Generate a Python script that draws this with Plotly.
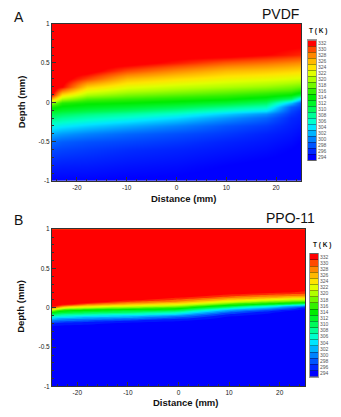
import plotly.graph_objects as go

# ---------------- data ----------------
distance_cols = [-25, -23, -18, -10, 0, 10, 18, 23, 25]

depth_rows_a = [-1.0, -0.8, -0.6, -0.5, -0.4, -0.3, -0.2, -0.15, -0.1, -0.05, 0.0,
                0.05, 0.1, 0.15, 0.2, 0.3, 0.4, 0.5, 0.6, 0.8, 1.0]

# PVDF temperature (K) profiles, one list per distance column (bottom -> top)
pvdf_m25 = [294, 295.6, 297.5, 299, 301.7, 305.1, 308.8, 310.6, 312.5, 314.9, 319, 326, 332, 333, 333, 333, 333, 333, 333, 333, 333]
pvdf_m23 = [294, 295.4, 297.2, 298.4, 301, 304.4, 308, 309.9, 311.8, 313.6, 315.5, 320, 324.3, 328.4, 332, 333, 333, 333, 333, 333, 333]
pvdf_m18 = [294, 295.3, 296.8, 297.8, 300, 303.3, 306.9, 308.8, 310.8, 312.8, 314.5, 317, 320, 322.5, 325, 330.2, 333, 333, 333, 333, 333]
pvdf_m10 = [293.8, 294.9, 296.2, 297.3, 298.8, 301.8, 305.6, 307.6, 309.7, 311.9, 314, 316.1, 318.3, 320.4, 322.3, 326, 330, 333, 333, 333, 333]
pvdf_0 = [293.7, 294.6, 295.7, 296.6, 297.7, 300, 303.6, 305.8, 308, 310.5, 313, 315.2, 317.2, 319.2, 321, 324.3, 327.8, 331.3, 333, 333, 333]
pvdf_p10 = [293.4, 294, 295.1, 295.7, 296.7, 298, 300.9, 303.1, 305.7, 308.6, 311.6, 314.4, 316.3, 318.1, 320, 323, 326, 329.5, 333, 333, 333]
pvdf_p18 = [293.2, 293.6, 294.6, 295.1, 295.7, 296.8, 298.7, 300.7, 304, 306.9, 309.8, 312.8, 315.2, 317.2, 319.2, 322.4, 325.4, 328.7, 332, 333, 333]
pvdf_p23 = [293, 293.5, 294, 294.5, 295, 295.5, 296, 296.7, 297.4, 298.5, 302.7, 309.7, 314, 316.6, 318.3, 321.8, 324.8, 328, 331.3, 333, 333]
pvdf_p25 = [293, 293.3, 293.7, 294, 294.5, 295, 295.5, 295.7, 296, 297, 298, 304, 311.6, 315.4, 317.7, 321.5, 324.5, 327.7, 331, 333, 333]

depth_rows_b = [-1.0, -0.5, -0.3, -0.25, -0.2, -0.175, -0.15, -0.125, -0.1, -0.075, -0.05, -0.025, 0.0,
                0.025, 0.05, 0.075, 0.1, 0.125, 0.15, 0.175, 0.2, 0.25, 0.3, 0.5, 1.0]

# PPO-11 temperature (K) profiles
ppo_m25 = [293.5, 293.5, 293.7, 294, 297, 299.5, 302, 304.7, 308, 311.75, 316, 321.5, 329, 333, 333, 333, 333, 333, 333, 333, 333, 333, 333, 333, 333]
ppo_m23 = [293.5, 293.5, 293.7, 293.9, 296, 298.5, 301, 303.5, 306.7, 309.8, 312.8, 317, 323, 329, 333, 333, 333, 333, 333, 333, 333, 333, 333, 333, 333]
ppo_m18 = [293.5, 293.5, 293.7, 293.8, 295.5, 297.5, 300, 302.5, 305.3, 308.6, 311.6, 315, 320, 325, 329, 333, 333, 333, 333, 333, 333, 333, 333, 333, 333]
ppo_m10 = [293.5, 293.5, 293.7, 293.8, 294.5, 295.8, 298.7, 301.5, 304, 307.3, 310.4, 313.4, 318, 322.1, 326, 329, 332, 333, 333, 333, 333, 333, 333, 333, 333]
ppo_0 = [293.5, 293.5, 293.6, 293.7, 293.9, 294.8, 296, 298.5, 301.3, 304.7, 308, 311.8, 315.5, 319.3, 323, 326.4, 328.6, 330.7, 333, 333, 333, 333, 333, 333, 333]
ppo_p10 = [293.5, 293.5, 293.6, 293.7, 293.8, 293.9, 293.95, 294.3, 295.5, 297.5, 300, 303.3, 308, 313, 317, 321.2, 324.5, 327.2, 329.4, 331.6, 333, 333, 333, 333, 333]
ppo_p18 = [293.5, 293.5, 293.6, 293.7, 293.8, 293.85, 293.9, 293.95, 294, 294.8, 296, 299.3, 302.7, 307, 314, 317.8, 321.5, 325.3, 327.7, 329.9, 332, 333, 333, 333, 333]
ppo_p23 = [293.5, 293.5, 293.5, 293.6, 293.6, 293.7, 293.7, 293.8, 293.8, 293.9, 294, 295.7, 298.7, 303, 311, 316.3, 320, 323.8, 326.9, 329, 331.1, 333, 333, 333, 333]
ppo_p25 = [293.5, 293.5, 293.5, 293.5, 293.6, 293.6, 293.6, 293.7, 293.7, 293.8, 293.8, 294.3, 296, 301.3, 310, 316.3, 320, 323.8, 326.8, 328.6, 330.5, 333, 333, 333, 333]

levels = [294, 296, 298, 300, 302, 304, 306, 308, 310, 312, 314, 316, 318, 320, 322, 324, 326, 328, 330, 332]
level_labels = [str(v) for v in levels]

x_tickvals = [-20, -10, 0, 10, 20]
x_ticktext = ["-20", "-10", "0", "10", "20"]
y_tickvals = [-1, -0.5, 0, 0.5, 1]
y_ticktext = ["-1", "-0.5", "0", "0.5", "1"]

# ---------------- style ----------------
band_colors = [
    "rgb(0,0,255)", "rgb(0,40,255)", "rgb(0,85,255)", "rgb(0,130,255)", "rgb(0,180,255)",
    "rgb(0,230,255)", "rgb(0,255,205)", "rgb(0,255,150)", "rgb(0,250,90)", "rgb(0,245,40)",
    "rgb(0,235,0)", "rgb(50,240,0)", "rgb(115,248,0)", "rgb(175,255,0)", "rgb(225,255,0)",
    "rgb(255,228,0)", "rgb(255,185,0)", "rgb(255,135,0)", "rgb(255,75,0)", "rgb(255,0,0)",
]
ZMIN, ZMAX = 293, 333
cscale = [[0.0, band_colors[0]]]
for lv, col in zip(levels, band_colors):
    cscale.append([(lv - ZMIN) / (ZMAX - ZMIN), col])
cscale.append([1.0, band_colors[-1]])

W, H = 341, 417
def px_x(p):
    return p / W
def px_y(p):
    return 1 - p / H

FONT = "Arial, Liberation Sans, sans-serif"

pvdf_cols = [pvdf_m25, pvdf_m23, pvdf_m18, pvdf_m10, pvdf_0, pvdf_p10, pvdf_p18, pvdf_p23, pvdf_p25]
ppo_cols = [ppo_m25, ppo_m23, ppo_m18, ppo_m10, ppo_0, ppo_p10, ppo_p18, ppo_p23, ppo_p25]
z_a = [list(r) for r in zip(*pvdf_cols)]
z_b = [list(r) for r in zip(*ppo_cols)]

fig = go.Figure()
fig.add_trace(go.Heatmap(x=distance_cols, y=depth_rows_a, z=z_a, colorscale=cscale,
                         zmin=ZMIN, zmax=ZMAX, zsmooth="best", showscale=False,
                         xaxis="x", yaxis="y", hoverinfo="skip"))
fig.add_trace(go.Contour(x=distance_cols, y=depth_rows_b, z=z_b, colorscale=cscale,
                         zmin=ZMIN, zmax=ZMAX, autocontour=False,
                         contours=dict(start=295, end=331, size=2, coloring="fill", showlines=False),
                         line=dict(width=0), showscale=False,
                         xaxis="x2", yaxis="y2", hoverinfo="skip"))
for xa, ya in (("x3", "y3"), ("x4", "y4")):
    fig.add_trace(go.Heatmap(x=[0], y=levels, z=[[v] for v in levels], colorscale=cscale,
                             zmin=ZMIN, zmax=ZMAX, showscale=False,
                             xaxis=xa, yaxis=ya, hoverinfo="skip"))

def main_x(domain, anchor, show_title=True):
    return dict(domain=domain, anchor=anchor, range=[-25, 25], tickmode="array",
                tickvals=x_tickvals, ticktext=x_ticktext, ticks="inside", ticklen=4,
                tickcolor="#333", tickwidth=1,
                minor=dict(ticks="inside", ticklen=2, tickmode="linear", tick0=0, dtick=2, tickcolor="#333"),
                showline=True, linecolor="#333", linewidth=1, mirror=True,
                showgrid=False, zeroline=False,
                tickfont=dict(family=FONT, size=6.5, color="#222"))

def main_y(domain, anchor):
    return dict(domain=domain, anchor=anchor, range=[-1, 1], tickmode="array",
                tickvals=y_tickvals, ticktext=y_ticktext, ticks="inside", ticklen=4,
                tickcolor="#333", tickwidth=1,
                minor=dict(ticks="inside", ticklen=2, tickmode="linear", tick0=0, dtick=0.1, tickcolor="#333"),
                showline=True, linecolor="#333", linewidth=1, mirror=True,
                showgrid=False, zeroline=False,
                tickfont=dict(family=FONT, size=6.5, color="#222"))

def cb_x(domain, anchor):
    return dict(domain=domain, anchor=anchor, range=[-0.5, 0.5], showticklabels=False,
                ticks="", showgrid=False, zeroline=False, showline=True,
                linecolor="#999", linewidth=1, mirror=True)

def cb_y(domain, anchor):
    return dict(domain=domain, anchor=anchor, range=[ZMIN, ZMAX], side="right",
                tickmode="array", tickvals=levels, ticktext=level_labels, ticks="",
                minor=dict(ticks="inside", ticklen=8, tickmode="linear", tick0=ZMIN, dtick=2,
                           tickcolor="rgba(0,0,0,0.35)", tickwidth=0.6),
                showgrid=False, zeroline=False, showline=True, linecolor="#999",
                linewidth=1, mirror=True,
                tickfont=dict(family=FONT, size=5, color="#555"))

fig.update_layout(
    width=W, height=H, margin=dict(l=0, r=0, t=0, b=0),
    paper_bgcolor="white", plot_bgcolor="white", showlegend=False,
    xaxis=main_x([px_x(52), px_x(301)], "y"),
    yaxis=main_y([px_y(180), px_y(20)], "x"),
    xaxis2=main_x([px_x(52), px_x(305)], "y2"),
    yaxis2=main_y([px_y(389), px_y(229)], "x2"),
    xaxis3=cb_x([px_x(308), px_x(316)], "y3"),
    yaxis3=cb_y([px_y(159), px_y(37)], "x3"),
    xaxis4=cb_x([px_x(310), px_x(318)], "y4"),
    yaxis4=cb_y([px_y(379), px_y(254)], "x4"),
)

def ann(text, x, y, size, bold=False, xanchor="center", angle=0, color="#111"):
    fig.add_annotation(text=f"<b>{text}</b>" if bold else text, x=px_x(x), y=px_y(y),
                       xref="paper", yref="paper", showarrow=False, xanchor=xanchor,
                       yanchor="middle", textangle=angle,
                       font=dict(family=FONT, size=size, color=color))

ann("A", 12, 13, 14, xanchor="left")
ann("PVDF", 301, 10, 14, xanchor="right")
ann("Depth (mm)", 21, 100, 9.5, bold=True, angle=-90)
ann("Distance (mm)", 183, 198, 9.5, bold=True)
ann("T ( K )", 318, 27, 6.5, bold=True)

ann("B", 12, 220, 14, xanchor="left")
ann("PPO-11", 317, 218, 14, xanchor="right")
ann("Depth (mm)", 21, 308, 9.5, bold=True, angle=-90)
ann("Distance (mm)", 185, 405, 9.5, bold=True)
ann("T ( K )", 322, 245, 6.5, bold=True)

fig.write_html("out.html")
